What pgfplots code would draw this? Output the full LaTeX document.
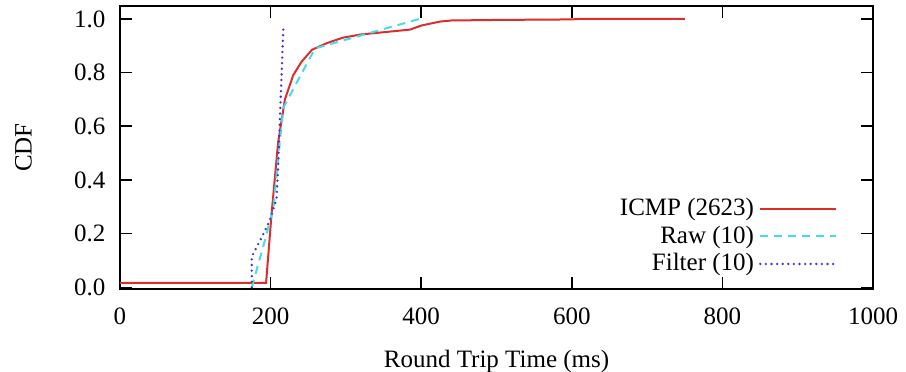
\documentclass[border=0pt]{standalone}
\usepackage{fontspec}
\setmainfont{Liberation Serif}
\usepackage{pgfplots}
\pgfplotsset{compat=1.18}
\definecolor{cred}{RGB}{220,45,45}
\definecolor{ccyan}{RGB}{70,220,230}
\definecolor{cblue}{RGB}{60,50,215}
\begin{document}
\rmfamily\fontsize{12.5}{14}\selectfont
\begin{tikzpicture}
\begin{axis}[
  name=ax,
  scale only axis,
  width=376.5pt, height=141.5pt,
  xmin=0, xmax=1000, ymin=-0.006, ymax=1.048,
  xtick={0,200,400,600,800,1000},
  ytick={0,0.2,0.4,0.6,0.8,1.0},
  /pgf/number format/set thousands separator={},
  yticklabel style={/pgf/number format/fixed,/pgf/number format/fixed zerofill,/pgf/number format/precision=1, xshift=-3pt},
  /pgf/number format/assume math mode=true,
  tick label style={font=\rmfamily\fontsize{12.5}{14}\selectfont},
  label style={font=\rmfamily\fontsize{12.5}{14}\selectfont},
  tick align=inside,
  major tick length=6pt,
  axis line style={line width=0.8pt},
  every tick/.style={black, line width=0.8pt},
  xlabel={Round Trip Time (ms)},
  ylabel={CDF},
  xlabel style={yshift=-4pt},
  ylabel style={yshift=12.5pt},
  xticklabel style={yshift=-5pt},
  legend cell align=right,
  legend plot pos=right,
  legend style={draw=none, fill=none, at={(0.9535,0.032)}, anchor=south east, inner sep=0pt, row sep=-1.8pt,
    font=\rmfamily\fontsize{12.5}{14}\selectfont, nodes={inner sep=2.5pt}},
  legend image code/.code={\draw[#1] (3pt,0pt) -- (41pt,0pt);},
]
\addplot[cred, line width=1pt] coordinates {
(0,0.017) (194,0.017) (201.5,0.28) (210,0.54) (219,0.70) (230,0.79) (241,0.84) (255,0.885)
(275,0.91) (296,0.93) (320,0.942) (349,0.95) (385,0.96) (400,0.975) (425,0.99) (440,0.994)
(500,0.996) (600,0.998) (610,1.0) (750,1.0)};
\addlegendentry{ICMP (2623)}
\addplot[ccyan, line width=1pt, dash pattern=on 4pt off 3pt] coordinates {
(175,0.0) (190,0.15) (204,0.30) (210,0.48) (217,0.67) (259,0.89) (398,1.0)};
\addlegendentry{Raw (10)}
\addplot[cblue, line width=1.3pt, line cap=round, dash pattern=on 0pt off 2.8pt] coordinates {
(175,0.0) (175,0.115) (188,0.185) (199,0.25) (208,0.33) (210,0.45) (212.5,0.64) (215,0.82) (217,0.98)};
\addlegendentry{Filter (10)}
\end{axis}
\pgfresetboundingbox
\path ([xshift=-60pt,yshift=-41.5pt]ax.south west) rectangle ([xshift=16.5pt,yshift=3pt]ax.north east);
\end{tikzpicture}
\end{document}
